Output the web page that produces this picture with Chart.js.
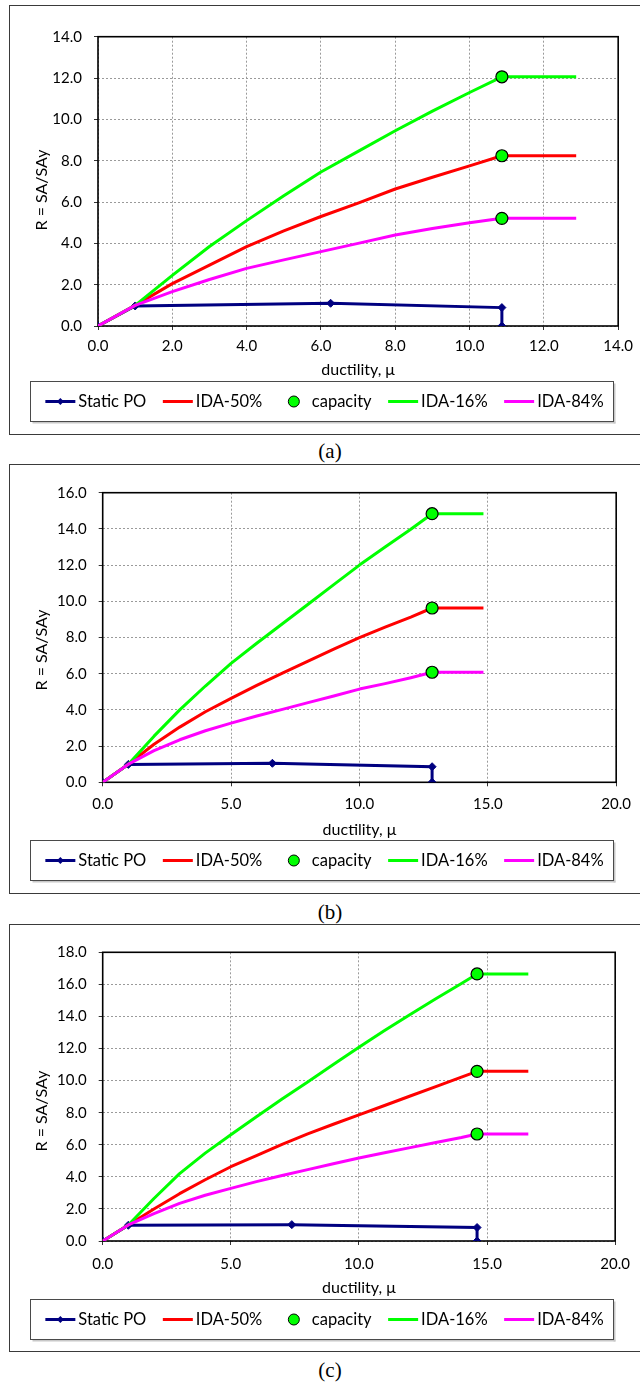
<!DOCTYPE html>
<html>
<head>
<meta charset="utf-8">
<script src="https://cdn.jsdelivr.net/npm/chart.js@4/dist/chart.umd.min.js"></script>
<style>
  html, body { margin: 0; padding: 0; background: #fff; width: 640px; height: 1382px; overflow: hidden; }
  body { position: relative; }
  .frame { position: absolute; left: 9px; width: 700px; border: 1px solid #3a3a3a; box-sizing: border-box; }
  canvas { position: absolute; left: 0; }
  .cap { position: absolute; left: 0; width: 660px; text-align: center; font: 21px "Liberation Serif", "DejaVu Serif", serif; line-height: 24px; color: #000; }
</style>
</head>
<body>
<div class="frame" style="top:5px;height:430px"></div>
<div class="frame" style="top:464px;height:430px"></div>
<div class="frame" style="top:924px;height:428px"></div>
<canvas id="cA" width="640" height="428" style="top:6px"></canvas>
<canvas id="cB" width="640" height="429" style="top:464px"></canvas>
<canvas id="cC" width="640" height="428" style="top:924px"></canvas>
<div class="cap" style="top:439px">(a)</div>
<div class="cap" style="top:900px">(b)</div>
<div class="cap" style="top:1358px">(c)</div>
<script>
const FONT = 'Lato, "DejaVu Sans", sans-serif';
const xTitle = 'ductility, \u03bc';
const yTitle = 'R = SA/SAy';

// ---------- (a) ----------
const poMuA  = [0, 1, 6.26, 10.87, 10.87];
const poRA   = [0, 0.97, 1.10, 0.89, 0];
const idaMuA = [0, 1, 2, 3, 4, 5, 6, 7, 8, 9, 10, 10.87, 12.87];
const ida16A = [0, 1.0, 2.45, 3.85, 5.1, 6.3, 7.45, 8.45, 9.45, 10.4, 11.3, 12.06, 12.06];
const ida50A = [0, 1.0, 2.05, 2.95, 3.84, 4.6, 5.3, 5.95, 6.63, 7.2, 7.75, 8.24, 8.24];
const ida84A = [0, 1.0, 1.66, 2.25, 2.79, 3.2, 3.6, 4.0, 4.4, 4.72, 5.0, 5.21, 5.21];
const capMuA = [10.87, 10.87, 10.87];
const capRA  = [12.06, 8.24, 5.21];

// ---------- (b) ----------
const poMuB  = [0, 1, 6.61, 12.83, 12.83];
const poRB   = [0, 0.99, 1.05, 0.86, 0];
const idaMuB = [0, 1, 2, 3, 4, 5, 6, 7, 8, 9, 10, 11, 12, 12.83, 14.83];
const ida16B = [0, 1.0, 2.55, 4.0, 5.32, 6.57, 7.68, 8.76, 9.84, 10.92, 12.0, 13.0, 13.98, 14.84, 14.84];
const ida50B = [0, 1.0, 2.1, 3.05, 3.9, 4.64, 5.35, 6.03, 6.7, 7.36, 7.99, 8.57, 9.13, 9.63, 9.63];
const ida84B = [0, 1.0, 1.75, 2.35, 2.85, 3.27, 3.66, 4.03, 4.4, 4.77, 5.15, 5.45, 5.78, 6.08, 6.08];
const capMuB = [12.83, 12.83, 12.83];
const capRB  = [14.84, 9.63, 6.08];

// ---------- (c) ----------
const poMuC  = [0, 1, 7.38, 14.61, 14.61];
const poRC   = [0, 0.98, 1.02, 0.84, 0];
const idaMuC = [0, 1, 2, 3, 4, 5, 6, 7, 8, 9, 10, 11, 12, 13, 14, 14.61, 16.61];
const ida16C = [0, 1.0, 2.65, 4.2, 5.48, 6.62, 7.75, 8.85, 9.92, 11.0, 12.08, 13.12, 14.12, 15.1, 16.05, 16.65, 16.65];
const ida50C = [0, 1.0, 2.0, 2.95, 3.82, 4.63, 5.33, 6.03, 6.68, 7.28, 7.86, 8.45, 9.04, 9.62, 10.22, 10.58, 10.58];
const ida84C = [0, 1.0, 1.7, 2.35, 2.85, 3.28, 3.7, 4.08, 4.45, 4.82, 5.18, 5.5, 5.82, 6.14, 6.45, 6.67, 6.67];
const capMuC = [14.61, 14.61, 14.61];
const capRC  = [16.65, 10.58, 6.67];

// axis ranges [max, step]
const xAxisA = [14, 2], yAxisA = [14, 2];
const xAxisB = [20, 5], yAxisB = [16, 2];
const xAxisC = [20, 5], yAxisC = [18, 2];

const NAVY = '#000080', RED = '#ff0000', GREEN = '#00ff00', MAGENTA = '#ff00ff';

const pts = (xs, ys) => xs.map((x, i) => ({ x, y: ys[i] }));

function lineSet(label, xs, ys, color, order) {
  return { label, data: pts(xs, ys), showLine: true, borderColor: color, backgroundColor: color,
           borderWidth: 3, pointRadius: 0, tension: 0, borderJoinStyle: 'round', order };
}

function buildDatasets(poMu, poR, idaMu, i16, i50, i84, capMu, capR) {
  return [
    { label: 'Static PO', data: pts(poMu, poR), showLine: true, borderColor: NAVY, backgroundColor: NAVY,
      borderWidth: 3, pointStyle: 'rectRot', pointRadius: 4, pointBorderWidth: 1, tension: 0, order: 4 },
    lineSet('IDA-50%', idaMu, i50, RED, 3),
    { label: 'capacity', data: pts(capMu, capR), showLine: false, pointStyle: 'circle', pointRadius: 6,
      backgroundColor: GREEN, borderColor: '#000', pointBorderWidth: 1.2, order: 0 },
    lineSet('IDA-16%', idaMu, i16, GREEN, 2),
    lineSet('IDA-84%', idaMu, i84, MAGENTA, 1)
  ];
}

// frame around the plot, rotated y title and boxed legend
const decor = {
  id: 'decor',
  beforeDatasetsDraw(chart) {
    const { ctx, chartArea: a } = chart;
    ctx.save();
    ctx.strokeStyle = '#000';
    ctx.lineWidth = 1.6;
    ctx.strokeRect(a.left, a.top, a.right - a.left, a.bottom - a.top);
    ctx.restore();
  },
  afterDraw(chart, args, opts) {
    const ctx = chart.ctx;
    ctx.save();
    ctx.fillStyle = '#000';
    // y title
    ctx.font = '16px ' + FONT;
    ctx.save();
    ctx.translate(41.5, opts.yTitleY);
    ctx.rotate(-Math.PI / 2);
    ctx.textAlign = 'center';
    ctx.textBaseline = 'middle';
    ctx.fillText(yTitle, 0, 0);
    ctx.restore();

    // legend box
    ctx.font = '16.5px ' + FONT;
    const bx = 30.5, bw = 583, bh = 40, by = opts.legendTop + 0.5;
    ctx.fillStyle = '#c8c8c8';
    ctx.fillRect(bx + 2, by + bh, bw, 2);
    ctx.fillRect(bx + bw, by + 2, 2, bh);
    ctx.fillStyle = '#fff';
    ctx.fillRect(bx, by, bw, bh);
    ctx.strokeStyle = '#4a4a4a';
    ctx.lineWidth = 1;
    ctx.strokeRect(bx, by, bw, bh);

    const sets = chart.data.datasets;
    const sym = 30, gapT = 3, gapI = 16.5;
    const widths = sets.map(d => ctx.measureText(d.label).width);
    const total = widths.reduce((s, w) => s + sym + gapT + w, 0) + gapI * (sets.length - 1);
    let x = 324.5 - total / 2;
    const cy = opts.legendTop + 20.5;
    ctx.textBaseline = 'middle';
    ctx.textAlign = 'left';
    sets.forEach((d, i) => {
      if (d.showLine) {
        ctx.strokeStyle = d.borderColor;
        ctx.lineWidth = 3;
        ctx.beginPath();
        ctx.moveTo(x, cy);
        ctx.lineTo(x + sym, cy);
        ctx.stroke();
        if (d.pointRadius > 0) {
          ctx.fillStyle = d.borderColor;
          const r = 3.5, mx = x + sym / 2;
          ctx.beginPath();
          ctx.moveTo(mx, cy - r); ctx.lineTo(mx + r, cy); ctx.lineTo(mx, cy + r); ctx.lineTo(mx - r, cy);
          ctx.closePath();
          ctx.fill();
        }
      } else {
        ctx.fillStyle = d.backgroundColor;
        ctx.strokeStyle = '#000';
        ctx.lineWidth = 1;
        ctx.beginPath();
        ctx.arc(x + sym / 2, cy, 5.5, 0, Math.PI * 2);
        ctx.fill();
        ctx.stroke();
      }
      ctx.fillStyle = '#000';
      ctx.fillText(d.label, x + sym + gapT, cy + 0.5);
      x += sym + gapT + widths[i] + gapI;
    });
    ctx.restore();
  }
};

function makeChart(id, datasets, xAxis, yAxis, p) {
  const c = document.getElementById(id);
  const tickFont = { family: FONT, size: 15 };
  const titleFont = { family: FONT, size: 16 };
  return new Chart(c, {
    type: 'scatter',
    data: { datasets },
    options: {
      responsive: false,
      animation: false,
      devicePixelRatio: 1,
      layout: { padding: { left: 0, top: p.area.top, right: 640 - p.area.right,
                           bottom: p.height - p.area.bottom - p.xBox } },
      plugins: { legend: { display: false }, tooltip: { enabled: false },
                 decor: { yTitleY: p.yTitleY, legendTop: p.legendTop } },
      scales: {
        x: {
          type: 'linear', min: 0, max: xAxis[0],
          afterFit: s => { s.height = p.xBox; },
          ticks: { stepSize: xAxis[1], color: '#000', font: tickFont, padding: p.xTickPad,
                   callback: v => Number(v).toFixed(1), maxRotation: 0 },
          grid: { color: '#9a9a9a', lineWidth: 1, tickLength: 4, tickColor: '#333', tickBorderDash: [] },
          border: { display: false, dash: [2, 2] },
          title: { display: true, text: xTitle, color: '#000', font: titleFont, padding: { top: 0, bottom: 0 } }
        },
        y: {
          type: 'linear', min: 0, max: yAxis[0],
          afterFit: s => { s.width = p.area.left; },
          ticks: { stepSize: yAxis[1], color: '#000', font: tickFont, padding: 12,
                   callback: v => Number(v).toFixed(1) },
          grid: { color: '#9a9a9a', lineWidth: 1, tickLength: 4, tickColor: '#333', tickBorderDash: [] },
          border: { display: false, dash: [2, 2] },
          title: { display: false }
        }
      }
    },
    plugins: [decor]
  });
}

makeChart('cA', buildDatasets(poMuA, poRA, idaMuA, ida16A, ida50A, ida84A, capMuA, capRA), xAxisA, yAxisA,
  { height: 428, area: { left: 98, top: 30.7, right: 622.3, bottom: 320 }, xBox: 53, xTickPad: 7, legendTop: 375, yTitleY: 184 });
makeChart('cB', buildDatasets(poMuB, poRB, idaMuB, ida16B, ida50B, ida84B, capMuB, capRB), xAxisB, yAxisB,
  { height: 429, area: { left: 102.7, top: 28.7, right: 619, bottom: 318.3 }, xBox: 56.7, xTickPad: 9, legendTop: 376, yTitleY: 186 });
makeChart('cC', buildDatasets(poMuC, poRC, idaMuC, ida16C, ida50C, ida84C, capMuC, capRC), xAxisC, yAxisC,
  { height: 428, area: { left: 102.7, top: 28.3, right: 619, bottom: 317 }, xBox: 56, xTickPad: 10, legendTop: 375, yTitleY: 187 });
</script>
</body>
</html>
